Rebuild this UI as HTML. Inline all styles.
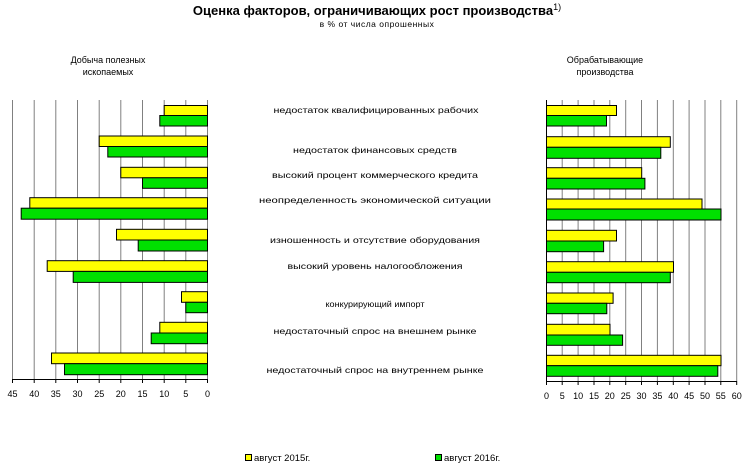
<!DOCTYPE html>
<html><head><meta charset="utf-8"><style>
html,body{margin:0;padding:0;background:#fff}
svg{display:block}
text{font-family:"Liberation Sans",sans-serif;fill:#000}
</style></head><body>
<svg width="754" height="470" viewBox="0 0 754 470" xmlns="http://www.w3.org/2000/svg">
<text x="377" y="15" font-size="13" font-weight="bold" text-anchor="middle">Оценка факторов, ограничивающих рост производства<tspan font-size="9" font-weight="normal" dy="-5">1)</tspan></text>
<text x="377" y="27" font-size="8.5" text-anchor="middle" letter-spacing="0.5">в % от числа опрошенных</text>
<text x="108" y="63" font-size="9" text-anchor="middle">Добыча полезных</text>
<text x="108" y="75" font-size="9" text-anchor="middle">ископаемых</text>
<text x="605" y="63" font-size="9" text-anchor="middle">Обрабатывающие</text>
<text x="605" y="75" font-size="9" text-anchor="middle">производства</text>
<g id="left">
<g stroke="#808080" stroke-width="1">
<line x1="12.5" y1="100" x2="12.5" y2="379"/><line x1="34.2" y1="100" x2="34.2" y2="379"/><line x1="55.8" y1="100" x2="55.8" y2="379"/><line x1="77.5" y1="100" x2="77.5" y2="379"/><line x1="99.2" y1="100" x2="99.2" y2="379"/><line x1="120.8" y1="100" x2="120.8" y2="379"/><line x1="142.5" y1="100" x2="142.5" y2="379"/><line x1="164.2" y1="100" x2="164.2" y2="379"/><line x1="185.8" y1="100" x2="185.8" y2="379"/><line x1="207.5" y1="100" x2="207.5" y2="379"/>
</g>
<line x1="12" y1="379.5" x2="208" y2="379.5" stroke="#000"/>
<g stroke="#000">
<line x1="12.5" y1="379" x2="12.5" y2="383"/><line x1="34.2" y1="379" x2="34.2" y2="383"/><line x1="55.8" y1="379" x2="55.8" y2="383"/><line x1="77.5" y1="379" x2="77.5" y2="383"/><line x1="99.2" y1="379" x2="99.2" y2="383"/><line x1="120.8" y1="379" x2="120.8" y2="383"/><line x1="142.5" y1="379" x2="142.5" y2="383"/><line x1="164.2" y1="379" x2="164.2" y2="383"/><line x1="185.8" y1="379" x2="185.8" y2="383"/><line x1="207.5" y1="379" x2="207.5" y2="383"/>
</g>
<g font-size="9" text-anchor="middle">
<text x="12.5" y="397">45</text><text x="34.2" y="397">40</text><text x="55.8" y="397">35</text><text x="77.5" y="397">30</text><text x="99.2" y="397">25</text><text x="120.8" y="397">20</text><text x="142.5" y="397">15</text><text x="164.2" y="397">10</text><text x="185.8" y="397">5</text><text x="207.5" y="397">0</text>
</g>
<g stroke="#000" stroke-width="1">
<rect x="164.2" y="105.5" width="43.3" height="10" fill="#ffff00"/><rect x="159.8" y="115.5" width="47.7" height="10.5" fill="#00e000"/>
<rect x="99.2" y="136" width="108.3" height="10.5" fill="#ffff00"/><rect x="107.8" y="146.5" width="99.7" height="10.5" fill="#00e000"/>
<rect x="120.8" y="167.3" width="86.7" height="10.5" fill="#ffff00"/><rect x="142.5" y="177.8" width="65" height="10.5" fill="#00e000"/>
<rect x="29.8" y="197.7" width="177.7" height="10.5" fill="#ffff00"/><rect x="21.2" y="208.2" width="186.3" height="11" fill="#00e000"/>
<rect x="116.5" y="229.3" width="91" height="10.7" fill="#ffff00"/><rect x="138.2" y="240" width="69.3" height="11" fill="#00e000"/>
<rect x="47.2" y="260.7" width="160.3" height="10.7" fill="#ffff00"/><rect x="73.2" y="271.4" width="134.3" height="11" fill="#00e000"/>
<rect x="181.5" y="291.7" width="26" height="10.6" fill="#ffff00"/><rect x="185.8" y="302.3" width="21.7" height="10.4" fill="#00e000"/>
<rect x="159.8" y="322.3" width="47.7" height="10.7" fill="#ffff00"/><rect x="151.2" y="333" width="56.3" height="10.7" fill="#00e000"/>
<rect x="51.5" y="353" width="156" height="10.7" fill="#ffff00"/><rect x="64.5" y="363.7" width="143" height="11" fill="#00e000"/>
</g>
</g>
<g id="right">
<g stroke="#808080" stroke-width="1">
<line x1="562.2" y1="100" x2="562.2" y2="381"/><line x1="578.1" y1="100" x2="578.1" y2="381"/><line x1="594" y1="100" x2="594" y2="381"/><line x1="609.8" y1="100" x2="609.8" y2="381"/><line x1="625.7" y1="100" x2="625.7" y2="381"/><line x1="641.5" y1="100" x2="641.5" y2="381"/><line x1="657.4" y1="100" x2="657.4" y2="381"/><line x1="673.3" y1="100" x2="673.3" y2="381"/><line x1="689.1" y1="100" x2="689.1" y2="381"/><line x1="705" y1="100" x2="705" y2="381"/><line x1="720.8" y1="100" x2="720.8" y2="381"/><line x1="736.7" y1="100" x2="736.7" y2="381"/>
</g>
<line x1="546.5" y1="100" x2="546.5" y2="381" stroke="#000"/>
<line x1="546" y1="381.5" x2="737" y2="381.5" stroke="#000"/>
<g stroke="#000">
<line x1="546.5" y1="381" x2="546.5" y2="385"/><line x1="562.2" y1="381" x2="562.2" y2="385"/><line x1="578.1" y1="381" x2="578.1" y2="385"/><line x1="594" y1="381" x2="594" y2="385"/><line x1="609.8" y1="381" x2="609.8" y2="385"/><line x1="625.7" y1="381" x2="625.7" y2="385"/><line x1="641.5" y1="381" x2="641.5" y2="385"/><line x1="657.4" y1="381" x2="657.4" y2="385"/><line x1="673.3" y1="381" x2="673.3" y2="385"/><line x1="689.1" y1="381" x2="689.1" y2="385"/><line x1="705" y1="381" x2="705" y2="385"/><line x1="720.8" y1="381" x2="720.8" y2="385"/><line x1="736.7" y1="381" x2="736.7" y2="385"/>
</g>
<g font-size="9" text-anchor="middle">
<text x="546.5" y="399">0</text><text x="562.2" y="399">5</text><text x="578.1" y="399">10</text><text x="594" y="399">15</text><text x="609.8" y="399">20</text><text x="625.7" y="399">25</text><text x="641.5" y="399">30</text><text x="657.4" y="399">35</text><text x="673.3" y="399">40</text><text x="689.1" y="399">45</text><text x="705" y="399">50</text><text x="720.8" y="399">55</text><text x="736.7" y="399">60</text>
</g>
<g stroke="#000" stroke-width="1">
<rect x="546.5" y="105.5" width="70" height="10" fill="#ffff00"/><rect x="546.5" y="115.5" width="60" height="10.5" fill="#00e000"/>
<rect x="546.5" y="136.7" width="123.8" height="10.6" fill="#ffff00"/><rect x="546.5" y="147.3" width="114.3" height="11" fill="#00e000"/>
<rect x="546.5" y="167.7" width="95.2" height="10.6" fill="#ffff00"/><rect x="546.5" y="178.3" width="98.4" height="10.7" fill="#00e000"/>
<rect x="546.5" y="199" width="155.5" height="10" fill="#ffff00"/><rect x="546.5" y="209" width="174.5" height="11" fill="#00e000"/>
<rect x="546.5" y="230.3" width="70" height="10.7" fill="#ffff00"/><rect x="546.5" y="241" width="57.1" height="10.7" fill="#00e000"/>
<rect x="546.5" y="261.7" width="127" height="10.6" fill="#ffff00"/><rect x="546.5" y="272.3" width="123.8" height="10.4" fill="#00e000"/>
<rect x="546.5" y="293" width="66.6" height="10.3" fill="#ffff00"/><rect x="546.5" y="303.3" width="60.3" height="10.4" fill="#00e000"/>
<rect x="546.5" y="324.3" width="63.5" height="10.7" fill="#ffff00"/><rect x="546.5" y="335" width="76.1" height="10.3" fill="#00e000"/>
<rect x="546.5" y="355.3" width="174.5" height="10.4" fill="#ffff00"/><rect x="546.5" y="365.7" width="171.3" height="10.6" fill="#00e000"/>
</g>
</g>
<g font-size="8.5" text-anchor="middle">
<text x="376" y="113" textLength="205" lengthAdjust="spacingAndGlyphs">недостаток квалифицированных рабочих</text>
<text x="375" y="153" textLength="164" lengthAdjust="spacingAndGlyphs">недостаток финансовых средств</text>
<text x="375" y="178" textLength="206" lengthAdjust="spacingAndGlyphs">высокий процент коммерческого кредита</text>
<text x="375" y="203" textLength="232" lengthAdjust="spacingAndGlyphs">неопределенность экономической ситуации</text>
<text x="375" y="243" textLength="210" lengthAdjust="spacingAndGlyphs">изношенность и отсутствие оборудования</text>
<text x="375" y="269" textLength="175" lengthAdjust="spacingAndGlyphs">высокий уровень налогообложения</text>
<text x="375" y="307" textLength="99" lengthAdjust="spacingAndGlyphs">конкурирующий импорт</text>
<text x="375" y="334" textLength="203" lengthAdjust="spacingAndGlyphs">недостаточный спрос на внешнем рынке</text>
<text x="375" y="373" textLength="217" lengthAdjust="spacingAndGlyphs">недостаточный спрос на внутреннем рынке</text>
</g>
<rect x="245.5" y="454.5" width="6" height="6" fill="#ffff00" stroke="#000"/>
<text x="254" y="461" font-size="9.5">август 2015г.</text>
<rect x="435.5" y="454.5" width="6" height="6" fill="#00e000" stroke="#000"/>
<text x="444" y="461" font-size="9.5">август 2016г.</text>
</svg>
</body></html>
